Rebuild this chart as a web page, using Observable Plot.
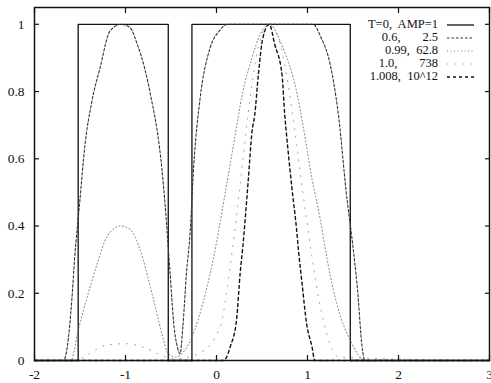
<!DOCTYPE html>
<html><head><meta charset="utf-8">
<script src="https://cdn.jsdelivr.net/npm/d3@7"></script>
<script src="https://cdn.jsdelivr.net/npm/@observablehq/plot@0.6"></script>
<style>
body{margin:0;background:#fff;}
#wrap{position:relative;width:491px;height:383px;}
#legend{position:absolute;left:332px;top:18px;font-family:"Liberation Serif","DejaVu Serif",serif;font-size:12.5px;color:#111;line-height:13px;}
#legend .row{display:flex;align-items:center;height:13px;overflow:hidden;}
#legend .lab{width:106px;text-align:right;white-space:pre;line-height:13px;}
#legend svg{margin-left:9px;}
</style></head>
<body><div id="wrap"><div id="chart"></div><div id="legend"></div></div>
<script>
const xTicks = [-2, -1, 0, 1, 2, 3];
const yTicks = [0, 0.2, 0.4, 0.6, 0.8, 1];
const yTickLabels = ["0", "0.2", "0.4", "0.6", "0.8", "1"];
const seriesNames = ["T=0,  AMP=1", "0.6,       2.5", "0.99,  62.8", "1.0,       738", "1.008,  10^12"];

const boxX = [-2, -1.52, -1.52, -0.53, -0.53, -0.27, -0.27, 1.47, 1.47, 3];
const boxY = [0, 0, 1, 1, 0, 0, 1, 1, 0, 0];

const t06X = [-2, -1.68, -1.64, -1.59, -1.56, -1.5, -1.45, -1.37, -1.28, -1.17, -1.05, -0.95, -0.87, -0.79, -0.71, -0.65, -0.6, -0.57, -0.51, -0.47, -0.43, -0.4, -0.37, -0.33, -0.29, -0.25, -0.18, -0.07, 0.03, 0.12, 0.6, 1.06, 1.15, 1.25, 1.34, 1.43, 1.49, 1.55, 1.6, 1.63, 3];
const t06Y = [0, 0, 0.04, 0.18, 0.3, 0.48, 0.63, 0.77, 0.87, 0.98, 1, 0.99, 0.94, 0.87, 0.77, 0.68, 0.57, 0.48, 0.26, 0.11, 0.04, 0.02, 0.1, 0.26, 0.38, 0.58, 0.78, 0.93, 0.98, 1, 1, 1, 0.96, 0.88, 0.73, 0.49, 0.36, 0.21, 0.04, 0, 0];

const t099X = [-2, -1.6, -1.52, -1.43, -1.32, -1.2, -1.05, -0.95, -0.84, -0.7, -0.6, -0.53, -0.45, -0.35, -0.24, -0.15, 0, 0.09, 0.18, 0.29, 0.39, 0.48, 0.58, 0.73, 0.88, 0.95, 1.05, 1.14, 1.19, 1.32, 1.47, 1.58, 1.65, 3];
const t099Y = [0, 0, 0.09, 0.18, 0.28, 0.37, 0.4, 0.39, 0.33, 0.19, 0.08, 0.02, 0.01, 0.03, 0.09, 0.17, 0.35, 0.49, 0.63, 0.8, 0.9, 0.97, 1, 0.93, 0.8, 0.7, 0.54, 0.42, 0.34, 0.17, 0.06, 0.01, 0, 0];

const t10X = [-2, -1.55, -1.4, -1.22, -1.0, -0.76, -0.6, -0.45, -0.2, 0.04, 0.15, 0.25, 0.35, 0.45, 0.58, 0.7, 0.8, 0.9, 1.0, 1.1, 1.2, 1.35, 3];
const t10Y = [0, 0, 0.02, 0.045, 0.05, 0.035, 0.015, 0.005, 0.02, 0.1, 0.28, 0.5, 0.74, 0.92, 1, 0.94, 0.8, 0.6, 0.4, 0.22, 0.09, 0.01, 0];

const t1008X = [-2, 0.08, 0.11, 0.15, 0.22, 0.26, 0.29, 0.35, 0.39, 0.42, 0.46, 0.51, 0.58, 0.64, 0.72, 0.75, 0.77, 0.83, 0.88, 0.9, 0.94, 0.99, 1.05, 1.08, 3];
const t1008Y = [0, 0, 0.01, 0.04, 0.12, 0.26, 0.34, 0.54, 0.68, 0.73, 0.85, 0.96, 1, 0.94, 0.85, 0.73, 0.67, 0.51, 0.39, 0.33, 0.23, 0.11, 0.04, 0, 0];

const styles = [
  {stroke: "#111", strokeWidth: 1.3, dash: null, curve: "linear"},
  {stroke: "#333", strokeWidth: 1.1, dash: "2.5,2", curve: "monotone-x"},
  {stroke: "#777", strokeWidth: 1, dash: "1,2.5", curve: "monotone-x"},
  {stroke: "#999", strokeWidth: 1, dash: "1,7", curve: "monotone-x"},
  {stroke: "#111", strokeWidth: 1.4, dash: "3,3", curve: "monotone-x"}
];
const allX = [boxX, t06X, t099X, t10X, t1008X];
const allY = [boxY, t06Y, t099Y, t10Y, t1008Y];

const lineMarks = allX.map((xs, i) => {
  const data = xs.map((x, j) => ({x, y: allY[i][j]}));
  const s = styles[i];
  return Plot.line(data, {x: "x", y: "y", stroke: s.stroke, strokeWidth: s.strokeWidth,
    strokeDasharray: s.dash, curve: s.curve});
});

const font = '"Liberation Serif","DejaVu Serif",serif';
const chart = Plot.plot({
  width: 491, height: 383,
  marginLeft: 34, marginRight: 2, marginTop: 7, marginBottom: 23,
  style: {fontFamily: font, fontSize: "13.5px", color: "#111", background: "#fff"},
  x: {domain: [-2, 3]},
  y: {domain: [0, 1.05]},
  marks: [
    ...lineMarks,
    Plot.frame({stroke: "#111", strokeWidth: 1.5}),
    Plot.axisX(xTicks, {anchor: "bottom", tickSize: -5, tickFormat: () => "", label: null, strokeWidth: 1.2}),
    Plot.axisX(xTicks, {anchor: "top", tickSize: -5, tickFormat: () => "", label: null, strokeWidth: 1.2}),
    Plot.axisY(yTicks, {anchor: "left", tickSize: -5, tickFormat: () => "", label: null, strokeWidth: 1.2}),
    Plot.axisY(yTicks, {anchor: "right", tickSize: -5, tickFormat: () => "", label: null, strokeWidth: 1.2}),
    Plot.axisX(xTicks, {anchor: "bottom", tickSize: 0, tickPadding: 9, label: null, tickFormat: d => String(d).replace("−", "-")}),
    Plot.axisY(yTicks, {anchor: "left", tickSize: 0, tickPadding: 10, label: null, tickFormat: (d, i) => yTickLabels[i]})
  ]
});
document.getElementById("chart").appendChild(chart);

const legend = document.getElementById("legend");
seriesNames.forEach((name, i) => {
  const s = styles[i];
  const row = document.createElement("div");
  row.className = "row";
  row.innerHTML = `<span class="lab">${name}</span><svg width="28" height="6"><line x1="0" y1="3" x2="27" y2="3" stroke="${s.stroke}" stroke-width="${s.strokeWidth}" ${s.dash ? `stroke-dasharray="${s.dash}"` : ""}/></svg>`;
  legend.appendChild(row);
});
</script></body></html>
